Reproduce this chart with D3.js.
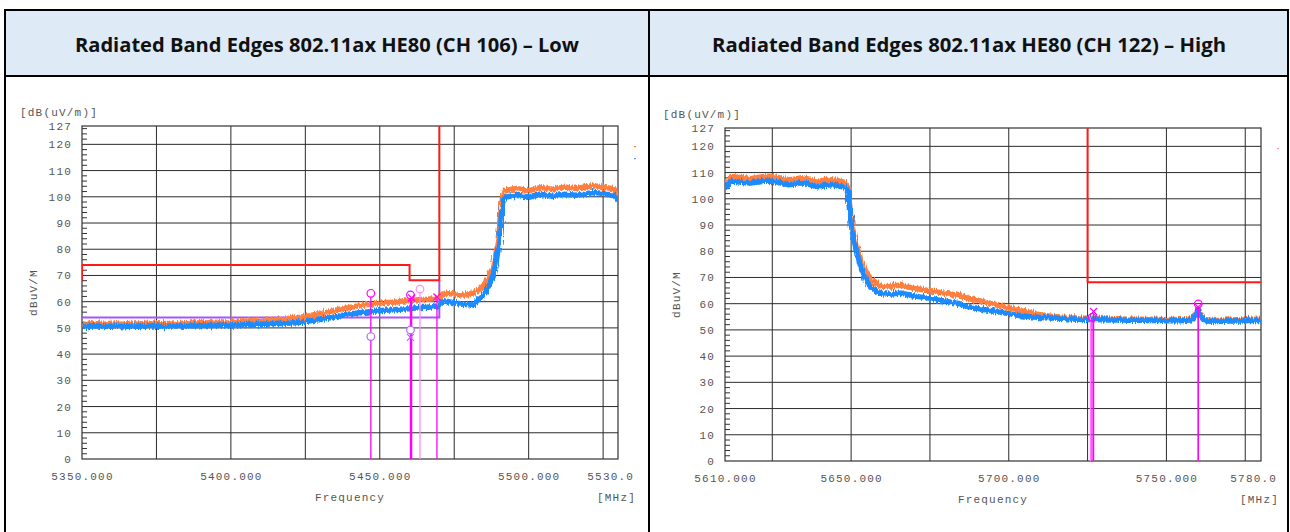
<!DOCTYPE html>
<html>
<head>
<meta charset="utf-8">
<script src="https://cdn.jsdelivr.net/npm/d3@7"></script>
<style>
  html, body { margin: 0; padding: 0; background: #fff; }
  svg { display: block; }
  .mono { font-family: "Liberation Mono", "DejaVu Sans Mono", monospace; font-size: 11px; fill: #555; letter-spacing: 1.2px; }
  .title { font-family: "Open Sans", "Noto Sans", sans-serif; font-weight: 700; font-size: 20px; fill: #111; }
</style>
</head>
<body>
<svg id="chart" width="1290" height="532"></svg>
<script>
// ---------- shared axis values ----------
const yTickValues = [0, 10, 20, 30, 40, 50, 60, 70, 80, 90, 100, 110, 120, 127];
const yGridValues = [10, 20, 30, 40, 50, 60, 70, 80, 90, 100, 110, 120];

// ---------- CH 106 (low band edge) ----------
const lowTitle = "Radiated Band Edges 802.11ax HE80 (CH 106) \u2013 Low";
const lowTickFreq = [5350, 5400, 5450, 5500, 5530];
const lowTickLabel = ["5350.000", "5400.000", "5450.000", "5500.000", "5530.0"];
const lowGridFreq = [5375, 5400, 5425, 5450, 5475, 5500, 5525];

const lowFreq = [5350,5352,5354,5356,5358,5360,5362,5364,5366,5368,5370,5372,5374,5376,5378,5380,5382,5384,5386,5388,
  5390,5392,5394,5396,5398,5400,5402,5404,5406,5408,5410,5412,5414,5416,5418,5420,5422,5424,5426,5428,
  5430,5432,5434,5436,5438,5440,5442,5444,5446,5448,5450,5452,5454,5456,5458,5460,5462,5464,5466,5468,
  5470,5471,5472,5474,5476,5478,5480,5481,5482,5483,5484,5485,5486,5487,5488,5489,5490,5490.5,5491,5491.5,
  5492,5494,5496,5498,5500,5502,5504,5506,5508,5510,5512,5514,5516,5518,5520,5522,5524,5526,5528,5529,5530];
const lowPeak = [51.6,51.3,51.7,51.4,51.5,51.8,51.4,51.5,51.7,51.5,51.6,51.8,51.5,51.6,51.7,51.9,51.6,51.8,52.0,51.8,
  52.1,51.9,52.2,52.1,52.3,52.2,52.5,52.3,52.6,52.8,52.7,53.0,53.1,53.4,53.3,53.8,53.9,54.2,54.6,55.0,
  55.4,55.9,56.4,57.0,57.5,57.8,58.2,58.6,58.9,59.2,59.4,59.7,59.8,60.0,60.3,60.4,60.6,60.8,60.9,61.1,
  61.6,62.8,63.2,63.0,62.7,62.5,62.6,62.8,63.5,64.3,65.2,66.3,68.0,70.4,73.5,78.0,86.0,92.0,98.0,101.0,
  102.2,102.8,103.2,102.7,102.3,102.9,103.5,103.2,102.8,103.3,103.7,103.4,103.2,103.6,103.9,104.2,103.9,103.5,103.2,102.6,100.5];
const lowAvg = [50.6,50.5,50.8,50.6,50.5,50.7,50.6,50.4,50.6,50.7,50.5,50.6,50.8,50.6,50.5,50.7,50.8,50.6,50.7,50.9,
  50.8,51.0,50.9,51.0,51.1,51.0,51.2,51.1,51.3,51.4,51.5,51.4,51.6,51.8,51.7,51.9,52.1,52.2,52.6,52.9,
  53.2,53.6,54.0,54.5,55.0,55.3,55.6,55.9,56.1,56.3,56.5,56.7,56.8,57.0,57.2,57.3,57.6,57.8,57.9,58.1,
  58.6,60.0,60.2,59.8,59.4,59.0,58.8,58.6,59.5,60.8,61.8,63.0,64.8,67.0,70.0,74.5,82.0,88.0,95.0,98.5,
  99.8,100.3,100.6,100.2,99.8,100.4,100.9,100.6,100.2,100.6,101.0,100.8,100.6,100.9,101.3,101.6,101.4,101.0,100.7,100.2,98.5];

const lowLimitPeakFreq = [5350, 5350, 5460, 5460, 5470, 5470];
const lowLimitPeakLevel = [68.2, 74, 74, 68.2, 68.2, 127];
const lowLimitAvgFreq = [5350, 5470, 5470];
const lowLimitAvgLevel = [54, 54, 68.2];

const lowMarkerFreq = [5447.0, 5460.3, 5460.7, 5463.5, 5469.2];
const lowMarkerLevel = [63.2, 62.6, 61.4, 64.8, 61.8];
const lowMarkerShape = ["circle", "circle", "cross", "circle", "cross"];
const lowMarkerColor = ["#ff00ff", "#ff00ff", "#ff00ff", "#ff8cff", "#ff00ff"];
const lowAvgMarkerFreq = [5447.0, 5460.3, 5460.3];
const lowAvgMarkerLevel = [46.7, 49.2, 46.4];
const lowAvgMarkerShape = ["circle", "circle", "cross"];

// ---------- CH 122 (high band edge) ----------
const highTitle = "Radiated Band Edges 802.11ax HE80 (CH 122) \u2013 High";
const highTickFreq = [5610, 5650, 5700, 5750, 5780];
const highTickLabel = ["5610.000", "5650.000", "5700.000", "5750.000", "5780.0"];
const highGridFreq = [5625, 5650, 5675, 5700, 5725, 5750, 5775];

const highFreq = [5610,5611,5612,5614,5616,5618,5620,5622,5624,5626,5628,5630,5632,5634,5636,5638,5640,5642,5644,5646,
  5648,5649,5649.5,5650,5651,5652,5653,5654,5655,5656,5658,5660,5662,5664,5666,5668,5670,5672,5674,5676,
  5678,5680,5682,5684,5686,5688,5690,5692,5694,5696,5698,5700,5702,5704,5706,5708,5710,5712,5714,5716,
  5718,5720,5722,5724,5726,5728,5730,5732,5734,5736,5738,5740,5742,5744,5746,5748,5750,5752,5754,5756,
  5758,5759,5760,5761,5762,5764,5766,5768,5770,5772,5774,5776,5778,5780];
const highPeak = [104.5,107.0,108.5,108.2,108.0,107.7,108.0,108.4,108.6,108.3,107.8,107.3,107.5,108.0,107.7,107.0,106.6,107.2,107.3,106.8,
  106.2,104.0,97.5,92.0,86.0,81.0,77.0,74.0,71.5,69.5,67.5,66.6,66.5,66.9,67.0,66.4,65.8,65.5,65.1,64.8,
  64.3,63.9,63.5,63.1,62.4,61.8,61.3,60.8,60.2,59.6,59.0,58.5,58.0,57.4,56.8,56.2,55.8,55.4,55.1,54.9,
  54.8,54.6,54.5,54.4,54.5,54.4,54.3,54.2,54.3,54.2,54.1,54.2,54.1,54.0,54.1,54.0,53.9,54.0,53.9,54.0,
  54.3,55.9,57.8,55.4,54.0,53.7,53.6,53.7,53.8,53.9,53.8,54.0,54.1,54.0];
const highAvg = [103.5,105.5,106.8,106.5,106.2,106.0,106.3,106.6,106.8,106.5,106.0,105.4,105.6,106.1,105.8,105.0,104.6,105.2,105.4,104.9,
  104.4,102.5,96.0,90.5,84.0,78.5,74.0,71.0,68.5,66.5,64.8,63.8,63.6,63.9,64.0,63.5,62.9,62.6,62.2,61.8,
  61.3,60.9,60.5,60.1,59.2,58.7,58.2,57.8,57.4,57.0,56.6,56.2,55.8,55.4,55.1,54.9,54.7,54.6,54.5,54.4,
  54.3,54.2,54.1,54.0,54.1,54.0,53.9,53.8,53.9,53.8,53.7,53.8,53.7,53.6,53.7,53.6,53.5,53.6,53.5,53.6,
  53.9,55.5,57.5,55.0,53.6,53.3,53.2,53.3,53.4,53.5,53.4,53.6,53.7,53.6];

const highLimitPeakFreq = [5725, 5725, 5780];
const highLimitPeakLevel = [127, 68.2, 68.2];

const highMarkerFreq = [5725.9, 5726.4, 5726.9, 5760.1, 5760.1];
const highMarkerLevel = [54.8, 54.8, 57.0, 59.9, 58.7];
const highMarkerShape = ["none", "circle", "cross", "circle", "cross"];
const highMarkerColor = ["#ff7cff", "#ff00ff", "#ff00ff", "#ff00ff", "#ff00ff"];

// ---------- drawing ----------
const svg = d3.select("#chart");
const charW = 11 * 0.6 + 1.2;

// analyser-style sweep texture: fine jagged edges on the trace strokes
const defs = svg.append("defs");
const jitter = defs.append("filter").attr("id", "sweep").attr("x", "-2%").attr("y", "-10%")
  .attr("width", "104%").attr("height", "120%");
jitter.append("feTurbulence").attr("type", "fractalNoise").attr("baseFrequency", "0.9 0.08")
  .attr("numOctaves", 2).attr("seed", 4).attr("result", "n");
jitter.append("feDisplacementMap").attr("in", "SourceGraphic").attr("in2", "n").attr("scale", 6)
  .attr("xChannelSelector", "R").attr("yChannelSelector", "G");

// table frame with header row
svg.append("rect").attr("x", 5).attr("y", 10).attr("width", 1283).attr("height", 66).attr("fill", "#deeaf6");
const frame = svg.append("g").attr("stroke", "#000").attr("stroke-width", 2).attr("fill", "none");
frame.append("rect").attr("x", 5).attr("y", 10).attr("width", 1283).attr("height", 560);
frame.append("line").attr("x1", 5).attr("x2", 1288).attr("y1", 76).attr("y2", 76);
frame.append("line").attr("x1", 649).attr("x2", 649).attr("y1", 10).attr("y2", 570);

svg.append("text").attr("class", "title").attr("x", 327).attr("y", 52)
  .attr("text-anchor", "middle").attr("textLength", 504).attr("lengthAdjust", "spacingAndGlyphs").text(lowTitle);
svg.append("text").attr("class", "title").attr("x", 969).attr("y", 52)
  .attr("text-anchor", "middle").attr("textLength", 514).attr("lengthAdjust", "spacingAndGlyphs").text(highTitle);

function drawPanel(p) {
  const x = d3.scaleLinear().domain(p.domain).range([p.left, p.right]);
  const y = d3.scaleLinear().domain([0, 127]).range([p.bottom, p.top]);
  const g = svg.append("g");
  const clipId = "clip" + p.id;
  defs.append("clipPath").attr("id", clipId).append("rect")
    .attr("x", p.left).attr("y", p.top).attr("width", p.right - p.left).attr("height", p.bottom - p.top);

  // grid
  g.append("g").selectAll("line").data(yGridValues).join("line")
    .attr("x1", p.left).attr("x2", p.right).attr("y1", d => y(d)).attr("y2", d => y(d))
    .attr("stroke", "#2b2b2b").attr("stroke-width", 1);
  g.append("g").selectAll("line").data(p.gridFreq).join("line")
    .attr("x1", d => x(d)).attr("x2", d => x(d)).attr("y1", p.top).attr("y2", p.bottom)
    .attr("stroke", "#2b2b2b").attr("stroke-width", 1);

  // minor ticks every 2 dB along the left edge
  const minor = d3.range(2, 127, 2).filter(v => v % 10 !== 0);
  g.append("g").selectAll("line").data(minor).join("line")
    .attr("x1", p.left).attr("x2", p.left + 5).attr("y1", d => y(d)).attr("y2", d => y(d))
    .attr("stroke", "#333").attr("stroke-width", 1);

  // plot frame
  g.append("rect").attr("x", p.left).attr("y", p.top)
    .attr("width", p.right - p.left).attr("height", p.bottom - p.top)
    .attr("fill", "none").attr("stroke", "#333").attr("stroke-width", 1.2);

  // y axis labels
  const yAxis = d3.axisLeft(y).tickValues(yTickValues).tickSize(0).tickPadding(10).tickFormat(d3.format("d"));
  const ya = g.append("g").attr("transform", `translate(${p.left},0)`).call(yAxis);
  ya.select(".domain").remove();
  ya.selectAll("text").attr("class", "mono").attr("font-family", null).attr("font-size", null);

  // x axis labels
  const xAxis = d3.axisBottom(x).tickValues(p.tickFreq).tickSize(0).tickPadding(0)
    .tickFormat((d, i) => p.tickLabel[i]);
  const xa = g.append("g").attr("transform", `translate(0,${p.bottom})`).call(xAxis);
  xa.select(".domain").remove();
  xa.selectAll("text").attr("class", "mono").attr("font-family", null).attr("font-size", null)
    .attr("text-anchor", "start").attr("x", -4 * charW).attr("y", 17).attr("dy", "0.35em");

  // axis titles
  g.append("text").attr("class", "mono").attr("x", p.left - 62).attr("y", p.top - 14).attr("dy", "0.35em").text("[dB(uV/m)]");
  g.append("text").attr("class", "mono").attr("text-anchor", "middle")
    .attr("transform", `translate(${p.left - 49},${(p.top + p.bottom) / 2}) rotate(-90)`).attr("dy", "0.35em").text("dBuV/M");
  g.append("text").attr("class", "mono").attr("text-anchor", "middle")
    .attr("x", (p.left + p.right) / 2).attr("y", p.bottom + 38).attr("dy", "0.35em").text("Frequency");
  g.append("text").attr("class", "mono").attr("text-anchor", "end")
    .attr("x", p.right + 18).attr("y", p.bottom + 38).attr("dy", "0.35em").text("[MHz]");

  const clipped = g.append("g").attr("clip-path", `url(#${clipId})`);
  const line = d3.line().x(d => x(d[0])).y(d => y(d[1]));

  // limit lines
  if (p.avgLimitFreq) {
    clipped.append("path").datum(d3.zip(p.avgLimitFreq, p.avgLimitLevel)).attr("d", line)
      .attr("fill", "none").attr("stroke", "#a855f7").attr("stroke-width", 2);
  }
  clipped.append("path").datum(d3.zip(p.peakLimitFreq, p.peakLimitLevel)).attr("d", line)
    .attr("fill", "none").attr("stroke", "#ff1a1a").attr("stroke-width", 2);

  // traces (peak then average on top)
  const traces = clipped.append("g").attr("filter", "url(#sweep)");
  traces.append("path").datum(d3.zip(p.freq, p.peak)).attr("d", line)
    .attr("fill", "none").attr("stroke", "#ff7f3f").attr("stroke-width", 5.5).attr("stroke-linejoin", "round");
  traces.append("path").datum(d3.zip(p.freq, p.avg)).attr("d", line)
    .attr("fill", "none").attr("stroke", "#1e8bff").attr("stroke-width", 5.5).attr("stroke-linejoin", "round");

  // markers
  function symbol(sel, shape, cx, cy, color) {
    if (shape === "circle") {
      sel.append("circle").attr("cx", cx).attr("cy", cy).attr("r", 3.8)
        .attr("fill", "none").attr("stroke", color).attr("stroke-width", 1.2);
    } else if (shape === "cross") {
      const s = 3.5;
      sel.append("path").attr("d", `M${cx - s},${cy - s}L${cx + s},${cy + s}M${cx + s},${cy - s}L${cx - s},${cy + s}`)
        .attr("stroke", color).attr("stroke-width", 1.2).attr("fill", "none");
    }
  }
  const mk = g.append("g");
  p.markerFreq.forEach((f, i) => {
    const cx = x(f), cy = y(p.markerLevel[i]);
    const off = p.markerShape[i] === "circle" ? 3.8 : (p.markerShape[i] === "cross" ? 2 : 0);
    mk.append("line").attr("x1", cx).attr("x2", cx).attr("y1", cy + off).attr("y2", p.bottom)
      .attr("stroke", p.markerColor[i]).attr("stroke-width", 1.3);
    symbol(mk, p.markerShape[i], cx, cy, p.markerColor[i]);
  });
  if (p.avgMarkerFreq) {
    p.avgMarkerFreq.forEach((f, i) => {
      const cx = x(f), cy = y(p.avgMarkerLevel[i]);
      if (p.avgMarkerShape[i] === "circle") {
        mk.append("circle").attr("cx", cx).attr("cy", cy).attr("r", 3.8)
          .attr("fill", "#fff").attr("stroke", "#b266ff").attr("stroke-width", 1.2);
      } else {
        symbol(mk, "cross", cx, cy, "#b266ff");
      }
    });
  }

  // small trace-colour keys outside the right edge
  p.keys.forEach((c, i) => {
    g.append("rect").attr("x", p.right + 16).attr("y", p.top + 20 + i * 12).attr("width", 2).attr("height", 1.2).attr("fill", c);
  });
}

drawPanel({
  id: "low", left: 82, right: 618, top: 126, bottom: 459, domain: [5350, 5530],
  tickFreq: lowTickFreq, tickLabel: lowTickLabel, gridFreq: lowGridFreq,
  freq: lowFreq, peak: lowPeak, avg: lowAvg,
  peakLimitFreq: lowLimitPeakFreq, peakLimitLevel: lowLimitPeakLevel,
  avgLimitFreq: lowLimitAvgFreq, avgLimitLevel: lowLimitAvgLevel,
  markerFreq: lowMarkerFreq, markerLevel: lowMarkerLevel, markerShape: lowMarkerShape, markerColor: lowMarkerColor,
  avgMarkerFreq: lowAvgMarkerFreq, avgMarkerLevel: lowAvgMarkerLevel, avgMarkerShape: lowAvgMarkerShape,
  keys: ["#ff7f3f", "#6f8fff"]
});

drawPanel({
  id: "high", left: 725, right: 1261, top: 128, bottom: 461, domain: [5610, 5780],
  tickFreq: highTickFreq, tickLabel: highTickLabel, gridFreq: highGridFreq,
  freq: highFreq, peak: highPeak, avg: highAvg,
  peakLimitFreq: highLimitPeakFreq, peakLimitLevel: highLimitPeakLevel,
  markerFreq: highMarkerFreq, markerLevel: highMarkerLevel, markerShape: highMarkerShape, markerColor: highMarkerColor,
  keys: ["#ff8fbf"]
});
</script>
</body>
</html>
